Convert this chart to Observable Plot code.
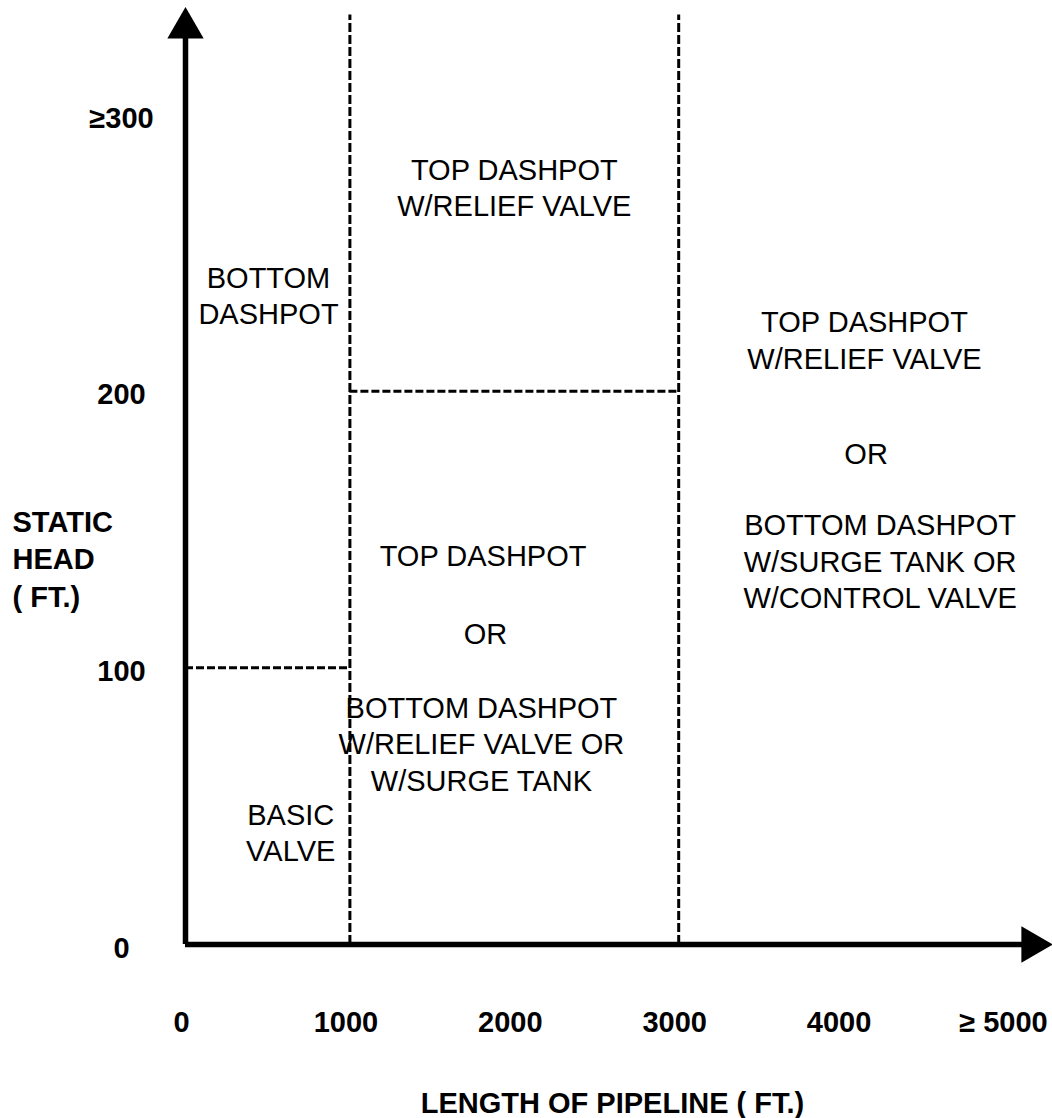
<!DOCTYPE html>
<html>
<head>
<meta charset="utf-8">
<script src="https://cdn.jsdelivr.net/npm/d3@7"></script>
<script src="https://cdn.jsdelivr.net/npm/@observablehq/plot@0.6"></script>
<style>
  html, body { margin: 0; padding: 0; background: #fff; }
  #chart svg { display: block; }
</style>
</head>
<body>
<div id="chart"></div>
<script>
// ---- data ----
const xTicks = [0, 1000, 2000, 3000, 4000, 5000];
const xTickLabels = ["0", "1000", "2000", "3000", "4000", "\u2265 5000"];
const yTicks = [0, 100, 200, 300];
const yTickLabels = ["0", "100", "200", "\u2265300"];

// vertical region boundaries (length of pipeline, ft)
const lengthBreaks = [1000, 3000];
// horizontal region boundaries (static head, ft) and their extents
const headBreaks = [100, 200];
const headBreakFrom = [0, 1000];
const headBreakTo = [1000, 3000];

// region annotations (positions in data units)
const regionText = [
  "TOP DASHPOT\nW/RELIEF VALVE",
  "BOTTOM\nDASHPOT",
  "TOP DASHPOT\nW/RELIEF VALVE",
  "OR",
  "BOTTOM DASHPOT\nW/SURGE TANK OR\nW/CONTROL VALVE",
  "TOP DASHPOT",
  "OR",
  "BOTTOM DASHPOT\nW/RELIEF VALVE OR\nW/SURGE TANK",
  "BASIC\nVALVE"
];
const regionLength = [2000, 505, 4130, 4140, 4225, 1810, 1825, 1800, 640];
const regionHead = [274, 235, 219, 178, 139, 141, 113, 73, 41];

const xAxisTitle = "LENGTH OF PIPELINE ( FT.)";
const yAxisTitle = "STATIC\nHEAD\n( FT.)";

// axis extents
const xMax = 5270;   // arrow tip on length axis
const yMax = 338.5;  // arrow tip on head axis
const dashTop = 336;

// ---- build ----
const font = "'Liberation Sans', Arial, Helvetica, sans-serif";
const regions = regionText.map((t, i) => ({text: t, x: regionLength[i], y: regionHead[i]}));
const hBreaks = headBreaks.map((h, i) => ({y: h, x1: headBreakFrom[i], x2: headBreakTo[i]}));
const xt = xTicks.map((v, i) => ({x: v, label: xTickLabels[i]}));
const yt = yTicks.map((v, i) => ({y: v, label: yTickLabels[i]}));

const chart = Plot.plot({
  width: 1052,
  height: 1118,
  margin: 0,
  style: {background: "#fff", fontFamily: font, color: "#000"},
  x: {domain: [0, 5000], range: [185, 1007], axis: null},
  y: {domain: [0, 300], range: [944, 114], axis: null},
  marks: [
    // dashed region boundaries
    Plot.ruleX(lengthBreaks, {y1: 0, y2: dashTop, stroke: "#000", strokeWidth: 3, strokeDasharray: "9,3"}),
    Plot.ruleY(hBreaks, {y: "y", x1: "x1", x2: "x2", stroke: "#000", strokeWidth: 3, strokeDasharray: "8,3"}),
    // axes
    Plot.ruleX([0], {y1: 0, y2: yMax - 8, stroke: "#000", strokeWidth: 5.5}),
    Plot.ruleY([0], {x1: 0, x2: xMax - 120, stroke: "#000", strokeWidth: 5.5}),
    Plot.dot([{x: 0, y: yMax}], {x: "x", y: "y", symbol: "triangle", r: 13.5, fill: "#000", stroke: null, dy: 20}),
    Plot.dot([{x: xMax, y: 0}], {x: "x", y: "y", symbol: "triangle", r: 13.5, fill: "#000", stroke: null, rotate: 90, dx: -20}),
    // tick labels
    Plot.text(xt, {x: "x", y: 0, text: "label", dy: 78, dx: -4, fontSize: 29, fontWeight: "bold", fontFamily: font, fill: "#000"}),
    Plot.text(yt, {x: 0, y: "y", text: "label", dx: -64, dy: 4, fontSize: 29, fontWeight: "bold", fontFamily: font, fill: "#000"}),
    // axis titles
    Plot.text([xAxisTitle], {x: 2597, y: 0, text: d => d, dy: 159, fontSize: 29, fontWeight: "bold", fontFamily: font, fill: "#000"}),
    Plot.text([yAxisTitle], {frameAnchor: "left", y: 140, text: d => d, dx: 12, textAnchor: "start", lineHeight: 1.3, fontSize: 29, fontWeight: "bold", fontFamily: font, fill: "#000"}),
    // region labels
    Plot.text(regions, {x: "x", y: "y", text: "text", fontSize: 29, lineHeight: 1.26, fontFamily: font, fill: "#000"})
  ]
});
document.getElementById("chart").append(chart);
</script>
</body>
</html>
